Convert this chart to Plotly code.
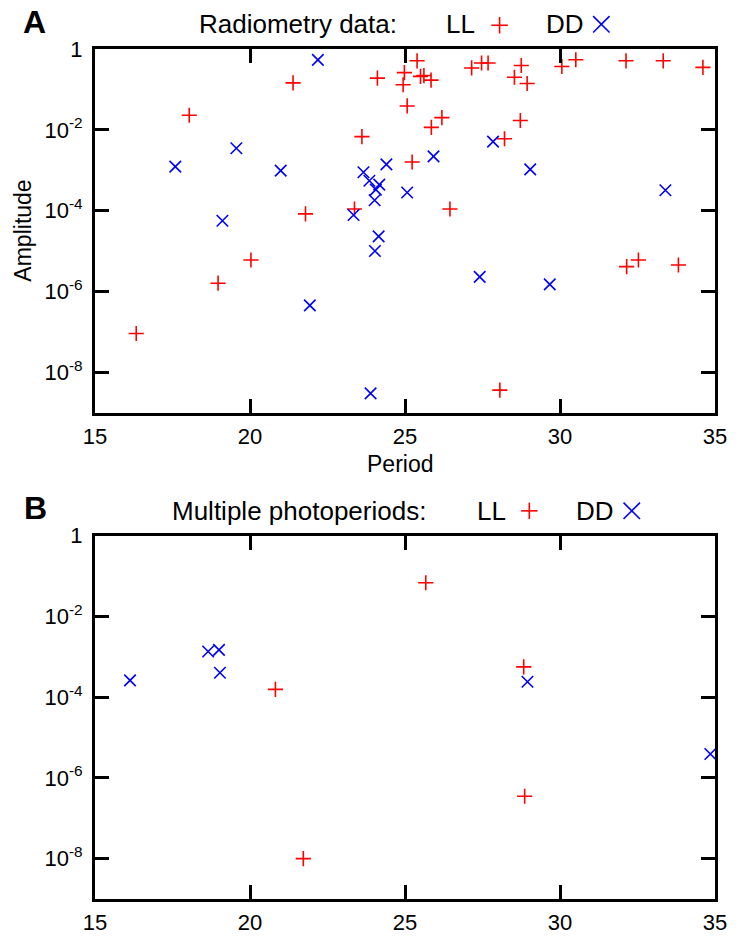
import plotly.graph_objects as go

# ---------------- Data ----------------
# Panel A: Radiometry data
a_ll_period = [16.33, 18.04, 18.97, 20.03, 21.39, 21.79, 23.37, 23.61, 24.11, 24.94,
               24.98, 25.07, 25.23, 25.39, 25.50, 25.61, 25.84, 25.85, 26.19, 26.45,
               27.15, 27.47, 27.68, 28.06, 28.21, 28.53, 28.72, 28.75, 28.94, 30.06,
               30.51, 32.13, 32.15, 32.53, 33.33, 33.82, 34.61]
a_ll_amp = [9.1e-8, 2.3e-2, 1.6e-6, 6.0e-6, 0.145, 8.3e-5, 1.1e-4, 6.8e-3, 0.19, 0.13,
            0.26, 0.039, 1.6e-3, 0.51, 0.21, 0.22, 0.17, 0.0115, 0.020, 1.1e-4,
            0.34, 0.45, 0.45, 3.6e-9, 6.0e-3, 0.20, 0.017, 0.39, 0.14, 0.37,
            0.54, 0.51, 4.1e-6, 6.0e-6, 0.51, 4.5e-6, 0.35]

a_dd_period = [17.59, 19.11, 19.56, 20.99, 21.93, 22.19, 23.34, 23.66, 23.85, 24.02,
               24.06, 24.17, 24.15, 24.03, 23.89, 24.40, 25.07, 25.92, 27.41, 27.84,
               29.04, 29.67, 33.40]
a_dd_amp = [1.23e-3, 5.6e-5, 3.5e-3, 9.8e-4, 4.5e-7, 0.54, 7.8e-5, 8.9e-4, 5.5e-4, 1.8e-4,
            3.3e-4, 4.4e-4, 2.3e-5, 1.0e-5, 3.0e-9, 1.4e-3, 2.8e-4, 2.2e-3, 2.3e-6, 5.1e-3,
            1.05e-3, 1.5e-6, 3.2e-4]

# Panel B: Multiple photoperiods
b_ll_period = [25.67, 20.82, 28.83, 28.86, 21.72]
b_ll_amp = [0.068, 1.55e-4, 5.6e-4, 3.5e-7, 1.0e-8]

b_dd_period = [16.13, 18.65, 19.00, 19.03, 28.95, 34.85]
b_dd_amp = [2.6e-4, 1.35e-3, 1.48e-3, 4.0e-4, 2.4e-4, 3.9e-6]

x_ticks = [15, 20, 25, 30, 35]
y_tickvals = [1, 1e-2, 1e-4, 1e-6, 1e-8]
y_ticktext = ["1", "10<sup>-2</sup>", "10<sup>-4</sup>", "10<sup>-6</sup>", "10<sup>-8</sup>"]
series_names = ["LL", "DD"]
panel_titles = ["Radiometry data:", "Multiple photoperiods:"]

# ---------------- Styling ----------------
W, H = 739, 947
ML, MR, MT, MB = 95, 18.3, 49, 38.5
PW = W - ML - MR
PH = H - MT - MB
FONT = "Liberation Sans, Arial, Helvetica, sans-serif"
RED = "#ff0000"
BLUE = "#0000ff"


def px(x):
    return (x - ML) / PW


def py(y):
    return (H - MB - y) / PH


domA = [py(416.7), 1.0]
domB = [0.0, py(541.0)]

ll_marker = dict(symbol="cross-thin", size=10.8, color=RED, line=dict(color=RED, width=1.6))
dd_marker = dict(symbol="x-thin", size=11.5, color=BLUE, line=dict(color=BLUE, width=1.6))

fig = go.Figure()
fig.add_trace(go.Scatter(x=a_ll_period, y=a_ll_amp, mode="markers", marker=ll_marker,
                         xaxis="x", yaxis="y", name=series_names[0], showlegend=False))
fig.add_trace(go.Scatter(x=a_dd_period, y=a_dd_amp, mode="markers", marker=dd_marker,
                         xaxis="x", yaxis="y", name=series_names[1], showlegend=False))
fig.add_trace(go.Scatter(x=b_ll_period, y=b_ll_amp, mode="markers", marker=ll_marker,
                         xaxis="x2", yaxis="y2", name=series_names[0], showlegend=False))
fig.add_trace(go.Scatter(x=b_dd_period, y=b_dd_amp, mode="markers", marker=dd_marker,
                         xaxis="x2", yaxis="y2", name=series_names[1], showlegend=False))

axis_common = dict(showline=True, linecolor="black", linewidth=3, mirror="ticks",
                   ticks="inside", ticklen=14, tickwidth=2.5, tickcolor="black",
                   showgrid=False, zeroline=False, ticklabeloverflow="allow",
                   tickfont=dict(family=FONT, size=22, color="black"))

xcfg = dict(axis_common, range=[15, 35], tickmode="array", tickvals=x_ticks,
            ticklabelstandoff=2)
ycfg = dict(axis_common, type="log", range=[-9, 0], tickmode="array",
            tickvals=y_tickvals, ticktext=y_ticktext, ticklabelstandoff=5)

fig.update_layout(
    width=W, height=H,
    margin=dict(l=ML, r=MR, t=MT, b=MB, pad=0),
    paper_bgcolor="white", plot_bgcolor="white",
    font=dict(family=FONT, color="black"),
    xaxis=dict(xcfg, domain=[0, 1], anchor="y"),
    yaxis=dict(ycfg, domain=domA, anchor="x"),
    xaxis2=dict(xcfg, domain=[0, 1], anchor="y2"),
    yaxis2=dict(ycfg, domain=domB, anchor="x2"),
    showlegend=False,
)

# Legend glyphs (key symbols) as paper-space shapes
shapes = []
GL = 8.3  # half-size of key glyph, px


def plus_glyph(cx, cy, color):
    return [
        dict(type="line", xref="paper", yref="paper", x0=px(cx - GL), x1=px(cx + GL),
             y0=py(cy), y1=py(cy), line=dict(color=color, width=1.6)),
        dict(type="line", xref="paper", yref="paper", x0=px(cx), x1=px(cx),
             y0=py(cy - GL), y1=py(cy + GL), line=dict(color=color, width=1.6)),
    ]


def x_glyph(cx, cy, color):
    return [
        dict(type="line", xref="paper", yref="paper", x0=px(cx - GL), x1=px(cx + GL),
             y0=py(cy - GL), y1=py(cy + GL), line=dict(color=color, width=1.6)),
        dict(type="line", xref="paper", yref="paper", x0=px(cx - GL), x1=px(cx + GL),
             y0=py(cy + GL), y1=py(cy - GL), line=dict(color=color, width=1.6)),
    ]


shapes += plus_glyph(503.3, 25, RED) + x_glyph(606, 24, BLUE)
shapes += plus_glyph(533.3, 516, RED) + x_glyph(636.7, 516, BLUE)

ann = []
LEG = 26
ann.append(dict(text="<b>A</b>", x=px(34), y=py(21.5), font=dict(size=32)))
ann.append(dict(text="<b>B</b>", x=px(34.5), y=py(513.5), font=dict(size=32)))
ann.append(dict(text=panel_titles[0], x=px(300), y=py(24), font=dict(size=LEG)))
ann.append(dict(text=series_names[0], x=px(481), y=py(24), xanchor="right", font=dict(size=LEG)))
ann.append(dict(text=series_names[1], x=px(548.5), y=py(24), xanchor="left", font=dict(size=LEG)))
ann.append(dict(text=panel_titles[1], x=px(301), y=py(516), font=dict(size=LEG)))
ann.append(dict(text=series_names[0], x=px(511.5), y=py(516), xanchor="right", font=dict(size=LEG)))
ann.append(dict(text=series_names[1], x=px(578.5), y=py(516), xanchor="left", font=dict(size=LEG)))
ann.append(dict(text="Period", x=px(403), y=py(469), font=dict(size=23)))
ann.append(dict(text="Amplitude", x=px(22), y=py(233), textangle=-90, font=dict(size=23)))

for a in ann:
    a.setdefault("xanchor", "center")
    a.update(xref="paper", yref="paper", yanchor="middle", showarrow=False)
    a["font"] = dict(family=FONT, color="black", **a["font"])

fig.update_layout(annotations=ann, shapes=shapes)
fig.write_html("out.html", config={"displayModeBar": False},
               post_script="document.body.style.margin='0';document.body.style.padding='0';")
